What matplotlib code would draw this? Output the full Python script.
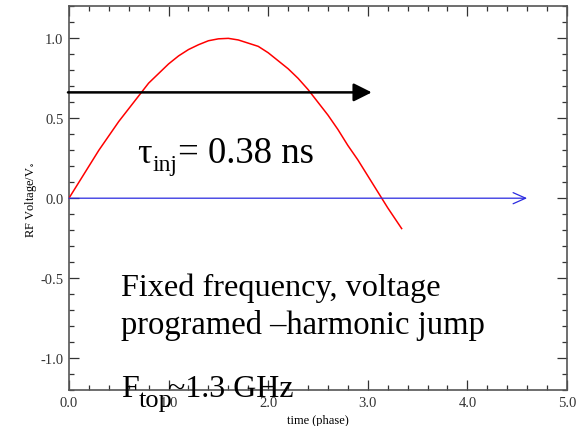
import matplotlib
matplotlib.use("Agg")
import matplotlib.pyplot as plt
from matplotlib.ticker import MultipleLocator

plt.rcParams["font.family"] = ["Liberation Serif", "DejaVu Serif"]
plt.rcParams["mathtext.fontset"] = "stix"

# red curve
phase = [0.0, 0.1, 0.2, 0.3, 0.4, 0.5, 0.6, 0.7, 0.8, 0.9, 1.0, 1.1, 1.2, 1.3,
         1.4, 1.5, 1.6, 1.7, 1.8, 1.9, 2.0, 2.1, 2.2, 2.3, 2.4, 2.5, 2.6, 2.7,
         2.8, 2.9, 3.0, 3.1, 3.2, 3.34]
voltage = [0.0, 0.10, 0.20, 0.30, 0.39, 0.48, 0.56, 0.64, 0.72, 0.78, 0.84,
           0.89, 0.93, 0.96, 0.985, 0.997, 1.0, 0.99, 0.97, 0.95, 0.91, 0.86,
           0.81, 0.75, 0.68, 0.60, 0.52, 0.43, 0.33, 0.24, 0.14, 0.04, -0.06,
           -0.19]

# arrows: (start, end)
time_arrow = [(0.0, 0.0), (4.60, 0.0)]
inj_arrow = [(-0.01, 0.662), (3.04, 0.662)]

x_ticks = [0.0, 1.0, 2.0, 3.0, 4.0, 5.0]
y_ticks = [-1.0, -0.5, 0.0, 0.5, 1.0]

fig = plt.figure(figsize=(5.87, 4.27), dpi=100)
ax = fig.add_axes((0.1175, 0.0843, 0.8484, 0.8984))

ax.plot(phase, voltage, color="red", lw=1.1, zorder=3)

ax.annotate("", xy=time_arrow[1], xytext=time_arrow[0],
            arrowprops=dict(arrowstyle="->,head_length=0.9,head_width=0.4",
                            color="#2a2ae0", lw=0.9, shrinkA=0, shrinkB=0))
ax.annotate("", xy=inj_arrow[1], xytext=inj_arrow[0],
            arrowprops=dict(arrowstyle="-|>,head_length=1.1,head_width=0.55",
                            color="black", lw=1.8, shrinkA=0, shrinkB=0),
            annotation_clip=False)

ax.set_xlim(0, 5.0)
ax.set_ylim(-1.2, 1.2)
ax.xaxis.set_minor_locator(MultipleLocator(0.2))
ax.yaxis.set_minor_locator(MultipleLocator(0.1))
ax.set_xticks(x_ticks)
ax.set_yticks(y_ticks)
ax.set_xticklabels([f"{v:.1f}" for v in x_ticks])
ax.set_yticklabels([f"{v:.1f}" for v in y_ticks])
ax.tick_params(which="both", direction="in", top=True, right=True,
               colors="#333333", labelsize=10.5, width=0.9)
ax.tick_params(which="major", length=7, pad=4)
ax.tick_params(which="minor", length=3.8)
for s in ax.spines.values():
    s.set_color("#555555")
    s.set_linewidth(1.2)

ax.set_xlabel("time (phase)", fontsize=9, labelpad=4)
ax.set_ylabel("RF Voltage/V$_\\circ$", fontsize=9, labelpad=1)

def px(x, y):
    # pixel position in the reference -> data coordinates
    return (x - 69) / 99.7, (199 - y) / 159.7

ax.text(*px(137, 163), "τ", fontsize=26)
ax.text(*px(153, 171), "inj", fontsize=17)
ax.text(*px(178, 163), "= 0.38 ns", fontsize=26.5)

ax.text(*px(121, 296), "Fixed frequency, voltage", fontsize=23.2)
ax.text(*px(121, 334), "programed \u2013harmonic jump", fontsize=23.5)

ax.text(*px(121, 397), "F", fontsize=23, clip_on=False, zorder=5)
ax.text(*px(139, 407), "top", fontsize=19, clip_on=False, zorder=5)
ax.text(*px(168, 397), "~1.3 GHz", fontsize=23, clip_on=False, zorder=5)

fig.savefig("out.png", dpi=100)
